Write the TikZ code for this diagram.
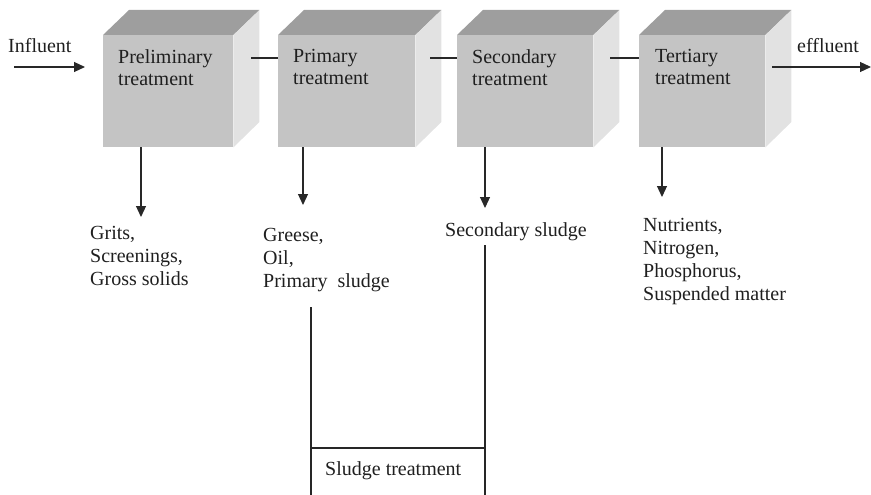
\documentclass[tikz,border=0pt]{standalone}
\usepackage{fontspec}
\setmainfont{Liberation Serif}
\usetikzlibrary{arrows.meta}
\definecolor{facefront}{RGB}{196,196,196}
\definecolor{facetop}{RGB}{158,158,158}
\definecolor{faceside}{RGB}{226,226,226}
\definecolor{ink}{RGB}{40,40,40}
\begin{document}
\begin{tikzpicture}[x=1pt,y=-1pt,
  front/.style={fill=facefront, draw=none, inner sep=0pt, minimum height=112pt, anchor=north west},
  txt/.style={font=\fontsize{20}{23}\selectfont, inner sep=0pt, align=left, anchor=north west, text=black!88},
  boxtxt/.style={txt, font=\fontsize{20}{22}\selectfont},
  link/.style={draw=ink, line width=1.2pt},
  flow/.style={link, -{Triangle[length=11pt,width=10pt]}},
  pipe/.style={draw=black!85, line width=1.1pt}]
\useasboundingbox (0,0) rectangle (871,495);

% the four treatment stages, drawn as shaded cubes
\foreach \n/\l/\w in {b1/103/130, b2/278/137, b3/457/136, b4/639/126} {
  \node[front, minimum width=\w pt] (\n) at (\l,35) {};
  \fill[facetop] (\n.north west) -- ++(26,-25) -- ([shift={(26,-25)}]\n.north east) -- (\n.north east) -- cycle;
  \fill[faceside] (\n.north east) -- ++(26,-25) -- ++(0,112) -- (\n.south east) -- cycle;
}

\node[boxtxt] (t1) at ([shift={(15,14)}]b1.north west) {Preliminary\\treatment};
\node[boxtxt] (t2) at ([shift={(15,14)}]b2.north west) {Primary\\treatment};
\node[boxtxt] (t3) at ([shift={(15,14)}]b3.north west) {Secondary\\treatment};
\node[boxtxt] (t4) at ([shift={(16,14)}]b4.north west) {Tertiary\\treatment};

% links between consecutive stages
\draw[link] ([shift={(18,23)}]b1.north east) -- ([shift={(0,23)}]b2.north west);
\draw[link] ([shift={(15,23)}]b2.north east) -- ([shift={(0,23)}]b3.north west);
\draw[link] ([shift={(17,23)}]b3.north east) -- ([shift={(0,23)}]b4.north west);

% inflow and outflow
\node[txt, anchor=base west] (inf) at (8,53) {Influent};
\coordinate (inA) at (14,67);
\coordinate (inB) at (85,67);
\draw[flow] (inA) -- (inB);
\node[txt, anchor=base west] (eff) at (797,53) {effluent};
\coordinate (outB) at (871,67);
\draw[flow] ([shift={(7,32)}]b4.north east) -- (outB);

% removed products
\coordinate (e1) at (141,217);
\coordinate (e2) at (303,205);
\coordinate (e3) at (485,208);
\coordinate (e4) at (662,197);
\draw[flow] (b1.south -| e1) -- (e1);
\draw[flow] (b2.south -| e2) -- (e2);
\draw[flow] (b3.south -| e3) -- (e3);
\draw[flow] (b4.south -| e4) -- (e4);

\node[txt] (l1) at (90,226) {Grits,\\Screenings,\\Gross solids};
\node[txt] (l2) at (263,228) {Greese,\\Oil,\\Primary\ \ sludge};
\node[txt, anchor=base west] (l3) at (445,236) {Secondary sludge};
\node[txt] (l4) at (643,218) {Nutrients,\\Nitrogen,\\Phosphorus,\\Suspended matter};

% sludge lines to sludge treatment
\coordinate (p2) at (311,307);
\coordinate (p3) at (485,245);
\coordinate (h2) at (311,448);
\coordinate (h3) at (485,448);
\coordinate (q2) at (311,495);
\coordinate (q3) at (485,495);
\draw[pipe] (p2) -- (q2);
\draw[pipe] (p3) -- (q3);
\draw[pipe] (h2) -- (h3);
\node[txt, anchor=base west] (st) at (325,475) {Sludge treatment};
\end{tikzpicture}
\end{document}
